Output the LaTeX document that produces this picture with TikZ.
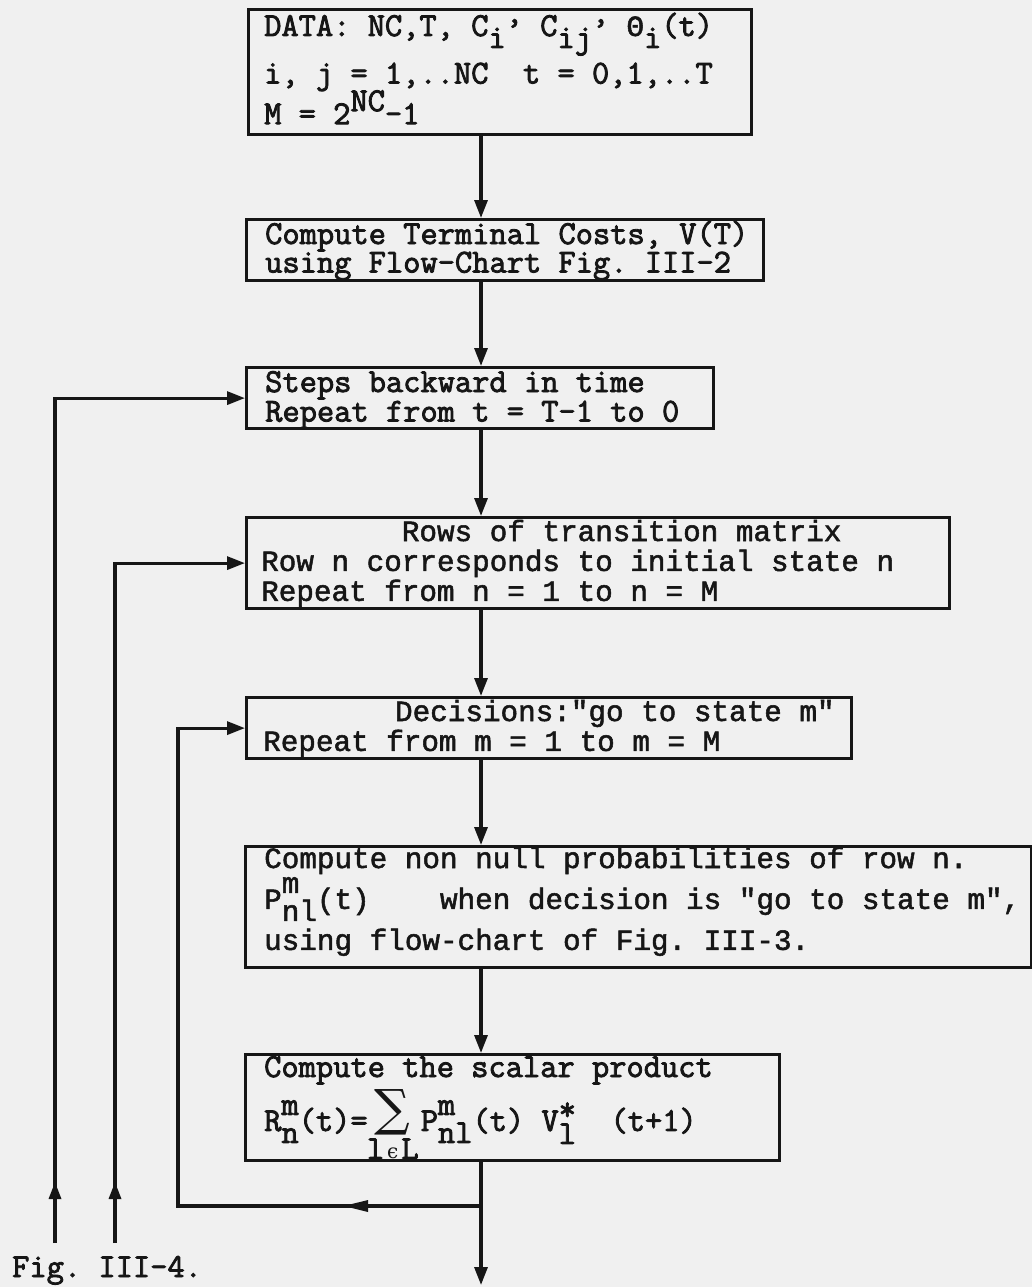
\documentclass[tikz,border=0pt]{standalone}
\usepackage{fontspec}
\newfontfamily\courfont{Latin Modern Mono}[FakeBold=2.5]
\newfontfamily\litefont{Liberation Mono}[FakeBold=1.8]
\newfontfamily\symfont{DejaVu Serif}
\usetikzlibrary{arrows.meta,decorations.markings}
\definecolor{ink}{RGB}{22,22,22}
\definecolor{paper}{RGB}{240,240,240}
\newcommand\hiup[1]{\raisebox{16pt}[0pt][0pt]{#1}}
\newcommand\lodn[1]{\raisebox{-12pt}[0pt][0pt]{#1}}
\newcommand\updn[2]{\rlap{\hiup{#1}}\lodn{#2}}
\newcommand\sumblk{\makebox[44pt]{\raisebox{5pt}[0pt][0pt]{\symfont\fontsize{50}{50}\selectfont ∑}}\llap{\makebox[44pt]{\raisebox{-28pt}[0pt][0pt]{l\hspace{3pt}{\symfont\fontsize{20}{20}\selectfont ϵ}\hspace{3pt}L}}}}
\begin{document}
\begin{tikzpicture}[x=1pt,y=-1pt,
  box/.style={draw=ink, line width=3.2pt, inner sep=0pt, anchor=north west},
  txt/.style={anchor=base west, inner sep=0pt, text=ink, font=\courfont\fontsize{33.5}{29}\selectfont\frenchspacing},
  lite/.style={anchor=base west, inner sep=0pt, text=ink, font=\litefont\fontsize{29.3}{29}\selectfont\frenchspacing},
  line/.style={draw=ink, line width=3.2pt},
  flow/.style={line, -{Triangle[length=18pt,width=13pt]}},
  midtip/.style={postaction={decorate}, decoration={markings, mark=at position #1 with {\arrow{Triangle[length=17pt,width=12pt]}}}},
  longtip/.style={postaction={decorate}, decoration={markings, mark=at position #1 with {\arrow{Triangle[length=25pt,width=11pt]}}}}
]
\fill[paper] (0,0) rectangle (1032,1287);
\useasboundingbox (0,0) rectangle (1032,1287);

% boxes
\node[box, minimum width=503, minimum height=125] (data) at (247,8) {};
\node[box, minimum width=517, minimum height=61] (term) at (245,218) {};
\node[box, minimum width=467, minimum height=61] (steps) at (245,366) {};
\node[box, minimum width=703, minimum height=91] (rows) at (245,516) {};
\node[box, minimum width=605, minimum height=61] (dec) at (245,696) {};
\node[box, minimum width=786, minimum height=121] (prob) at (244,845) {};
\node[box, minimum width=534, minimum height=106] (scal) at (244,1053) {};

% texts
\node[txt] (datat) at ([shift={(17,28)}]data.north west) {\begin{tabular}[t]{@{}l@{}}
DATA: NC,T, C\lodn{i}\raisebox{13pt}[0pt][0pt]{,} C\lodn{ij}\raisebox{13pt}[0pt][0pt]{,} {\litefont\fontsize{29.3}{29}\selectfont Θ}\lodn{i}(t)\\[18pt]
i, j = 1,..NC~~t = 0,1,..T\\[11pt]
M = 2\raisebox{13pt}[0pt][0pt]{NC}-1
\end{tabular}};
\node[txt] (termt) at ([shift={(20,26)}]term.north west) {\begin{tabular}[t]{@{}l@{}}
Compute Terminal Costs, V(T)\\[-1pt]
using Flow-Chart Fig. III-2
\end{tabular}};
\node[txt] (stepst) at ([shift={(20,26)}]steps.north west) {\begin{tabular}[t]{@{}l@{}}
Steps backward in time\\
Repeat from t = T-1 to 0
\end{tabular}};
\node[lite] (rowst) at ([shift={(16,25)}]rows.north west) {\begin{tabular}[t]{@{}l@{}}
~~~~~~~~Rows of transition matrix\\
Row n corresponds to initial state n\\
Repeat from n = 1 to n = M
\end{tabular}};
\node[lite] (dect) at ([shift={(18,25)}]dec.north west) {\begin{tabular}[t]{@{}l@{}}
~~~~~~~\hspace{8.8pt}Decisions:"go to state m"\\
Repeat from m = 1 to m = M
\end{tabular}};
\node[lite] (probt) at ([shift={(20,23)}]prob.north west) {\begin{tabular}[t]{@{}l@{}}
Compute non null probabilities of row n.\\[11pt]
P\updn{m}{nl}(t)~~~~when decision is "go to state m",\\[11pt]
using flow-chart of Fig. III-3.
\end{tabular}};
\node[txt] (scalt) at ([shift={(20,24)}]scal.north west) {\begin{tabular}[t]{@{}l@{}}
Compute the scalar product\\[22pt]
R\updn{m}{n}(t)=\hspace{3pt}\sumblk\hspace{6pt}P\updn{m}{nl}(t)~V\rlap{\raisebox{11pt}[0pt][0pt]{*}}\raisebox{-13pt}[0pt][0pt]{l}~~(t+1)
\end{tabular}};
\node[txt] (figlabel) at (12,1277) {Fig. III-4.};

% spine connectors
\coordinate (spine) at (481,0);
\draw[flow] (data.south -| spine) -- (term.north -| spine);
\draw[flow] (term.south -| spine) -- (steps.north -| spine);
\draw[flow] (steps.south -| spine) -- (rows.north -| spine);
\draw[flow] (rows.south -| spine) -- (dec.north -| spine);
\draw[flow] (dec.south -| spine) -- (prob.north -| spine);
\draw[flow] (prob.south -| spine) -- (scal.north -| spine);
\coordinate (split) at (481,1206);
\coordinate (exit) at (481,1285);
\draw[flow] (scal.south -| spine) -- (exit);

% feedback loops
\coordinate (c1) at (178,1206);
\coordinate (r2) at (115,1243);
\coordinate (r3) at (55,1243);
\draw[flow, longtip=138pt] (split) -- (c1) |- (dec.west);
\draw[flow, midtip=61pt] (r2) |- (rows.west);
\draw[flow, midtip=61pt] (r3) |- (steps.west);
\end{tikzpicture}
\end{document}
